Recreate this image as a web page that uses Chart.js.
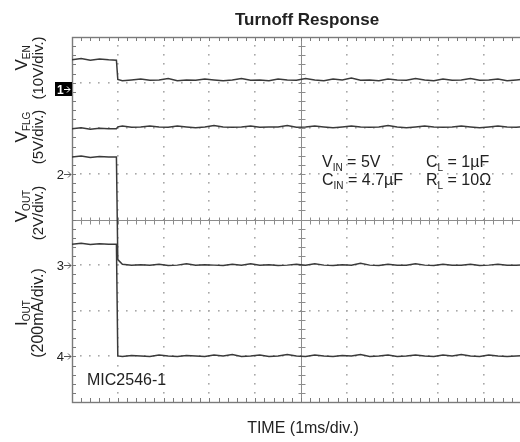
<!DOCTYPE html>
<html>
<head>
<meta charset="utf-8">
<script src="https://cdn.jsdelivr.net/npm/chart.js@4.4.1/dist/chart.umd.min.js"></script>
<style>
  html, body { margin: 0; padding: 0; background: #fff; overflow: hidden; }
  #wrap { width: 540px; height: 442px; }
</style>
</head>
<body>
<div id="wrap"><canvas id="scope"></canvas></div>
<script>
// time in divisions (1ms/div), traces in screen divisions (0 = bottom, 8 = top)
const timeDiv = [
  0, 0.2, 0.4, 0.6, 0.8, 0.97, 1.0, 1.1, 1.3, 1.5,
  1.7, 1.9, 2.1, 2.3, 2.5, 2.7, 2.9, 3.1, 3.3, 3.5,
  3.7, 3.9, 4.1, 4.3, 4.5, 4.7, 4.9, 5.1, 5.3, 5.5,
  5.7, 5.9, 6.1, 6.3, 6.5, 6.7, 6.9, 7.1, 7.3, 7.5,
  7.7, 7.9, 8.1, 8.3, 8.5, 8.7, 8.9, 9.1, 9.3, 9.5,
  9.7, 9.9, 10.0
];
const vEn = [
  7.50, 7.53, 7.49, 7.52, 7.50, 7.49, 7.07, 7.04, 7.06, 7.08,
  7.05, 7.06, 7.09, 7.04, 7.06, 7.05, 7.08, 7.06, 7.04, 7.06,
  7.09, 7.05, 7.06, 7.04, 7.08, 7.06, 7.05, 7.09, 7.06, 7.04,
  7.08, 7.06, 7.10, 7.05, 7.06, 7.04, 7.08, 7.06, 7.05, 7.09,
  7.06, 7.04, 7.08, 7.05, 7.06, 7.09, 7.05, 7.06, 7.08, 7.04,
  7.06, 7.08, 7.06
];
const vFlg = [
  5.99, 6.01, 5.98, 6.00, 5.99, 5.99, 6.03, 6.05, 6.02, 6.03,
  6.05, 6.03, 6.02, 6.05, 6.03, 6.01, 6.03, 6.06, 6.03, 6.02,
  6.03, 6.05, 6.02, 6.03, 6.03, 6.06, 6.02, 6.03, 6.05, 6.03,
  6.01, 6.03, 6.05, 6.03, 6.02, 6.03, 6.06, 6.03, 6.01, 6.03,
  6.05, 6.03, 6.02, 6.03, 6.05, 6.03, 6.01, 6.03, 6.05, 6.03,
  6.02, 6.04, 6.03
];
const vOut = [
  5.37, 5.39, 5.36, 5.38, 5.37, 5.37, 3.12, 3.02, 3.00, 3.01,
  3.00, 3.02, 2.99, 3.00, 3.03, 3.00, 3.01, 3.00, 2.99, 3.02,
  3.00, 3.03, 3.00, 3.01, 2.99, 3.00, 3.02, 3.00, 3.03, 3.00,
  2.99, 3.01, 3.00, 3.04, 3.00, 2.99, 3.02, 3.00, 3.00, 3.03,
  3.00, 2.99, 3.02, 3.00, 3.00, 3.02, 2.99, 3.00, 3.02, 3.00,
  3.00, 3.01, 3.00
];
const iOut = [
  3.46, 3.48, 3.45, 3.47, 3.46, 3.46, 1.01, 1.00, 1.02, 1.01,
  1.00, 1.03, 1.01, 1.00, 1.02, 1.01, 1.00, 1.03, 1.01, 1.04,
  1.00, 1.01, 1.03, 1.00, 1.01, 1.04, 1.01, 1.00, 1.03, 1.01,
  1.00, 1.02, 1.01, 1.04, 1.00, 1.01, 1.03, 1.00, 1.01, 1.03,
  1.01, 1.00, 1.03, 1.01, 1.04, 1.01, 1.00, 1.03, 1.01, 1.00,
  1.01, 1.02, 1.01
];
// channel ground markers
const markerLabels = ["1", "2", "3", "4"];
const markerLevels = [7, 5, 3, 1];
const xDivs = 10;
const yDivs = 8;

const FONT = '"Liberation Sans", Arial, sans-serif';
const GRID = "#a8a8a8";
const FRAME = "#8c8c8c";
const TRACE = "#3a3a3a";
const INK = "#222";

// draw a list of text runs ({t, size, dy}) from x, aligned left or center
function drawRuns(ctx, x, y, runs, align) {
  let total = 0;
  for (const r of runs) {
    ctx.font = `${r.size}px ${FONT}`;
    r.w = ctx.measureText(r.t).width;
    total += r.w;
  }
  let cx = align === "center" ? x - total / 2 : x;
  ctx.textAlign = "left";
  ctx.textBaseline = "alphabetic";
  for (const r of runs) {
    ctx.font = `${r.size}px ${FONT}`;
    ctx.fillText(r.t, cx, y + (r.dy || 0));
    cx += r.w;
  }
}

function rotatedRuns(ctx, baseX, centerY, runs) {
  ctx.save();
  ctx.translate(baseX, centerY);
  ctx.rotate(-Math.PI / 2);
  drawRuns(ctx, 0, 0, runs, "center");
  ctx.restore();
}

const scopePlugin = {
  id: "scope",
  beforeDatasetsDraw(chart) {
    const { ctx, chartArea: a, scales: { x, y } } = chart;
    ctx.save();

    // dotted graticule
    ctx.fillStyle = GRID;
    for (let i = 1; i < xDivs; i++) {
      if (i === 5) continue;
      const px = Math.round(x.getPixelForValue(i));
      for (let j = 1; j < yDivs * 5; j++) {
        const py = Math.round(y.getPixelForValue(j / 5));
        ctx.fillRect(px - 1, py - 1, 1.6, 1.6);
      }
    }
    for (let j = 1; j < yDivs; j++) {
      if (j === 4) continue;
      const py = Math.round(y.getPixelForValue(j));
      for (let i = 1; i < xDivs * 5; i++) {
        const px = Math.round(x.getPixelForValue(i / 5));
        ctx.fillRect(px - 1, py - 1, 1.6, 1.6);
      }
    }

    // centre axes with minor ticks
    ctx.strokeStyle = FRAME;
    ctx.lineWidth = 1;
    const cx = Math.round(x.getPixelForValue(5)) + 0.5;
    const cy = Math.round(y.getPixelForValue(4)) + 0.5;
    ctx.beginPath();
    ctx.moveTo(cx, a.top); ctx.lineTo(cx, a.bottom);
    ctx.moveTo(a.left, cy); ctx.lineTo(a.right, cy);
    for (let j = 1; j < yDivs * 5; j++) {
      const py = Math.round(y.getPixelForValue(j / 5)) + 0.5;
      ctx.moveTo(cx - 3, py); ctx.lineTo(cx + 4, py);
    }
    for (let i = 1; i < xDivs * 5; i++) {
      const px = Math.round(x.getPixelForValue(i / 5)) + 0.5;
      ctx.moveTo(px, cy - 3); ctx.lineTo(px, cy + 4);
    }
    ctx.stroke();

    // frame with inward ticks
    ctx.strokeStyle = "#7a7a7a";
    ctx.lineWidth = 1.4;
    ctx.strokeRect(Math.round(a.left) + 0.5, Math.round(a.top) + 0.5,
      Math.round(a.right - a.left), Math.round(a.bottom - a.top));
    ctx.lineWidth = 1;
    ctx.beginPath();
    for (let i = 1; i < xDivs * 5; i++) {
      const px = Math.round(x.getPixelForValue(i / 5)) + 0.5;
      ctx.moveTo(px, a.top); ctx.lineTo(px, a.top + 4);
      ctx.moveTo(px, a.bottom); ctx.lineTo(px, a.bottom - 4);
    }
    for (let j = 1; j < yDivs * 5; j++) {
      const py = Math.round(y.getPixelForValue(j / 5)) + 0.5;
      ctx.moveTo(a.left, py); ctx.lineTo(a.left + 4, py);
    }
    ctx.stroke();
    ctx.restore();
  },
  afterDraw(chart) {
    const { ctx, chartArea: a, scales: { x, y } } = chart;
    ctx.save();
    ctx.fillStyle = INK;

    // title + x label
    ctx.font = `bold 17px ${FONT}`;
    ctx.textAlign = "center";
    ctx.fillText("Turnoff Response", 307, 25);
    drawRuns(ctx, 303, 433, [{ t: "TIME (1ms/div.)", size: 16 }], "center");

    // channel labels on the left
    rotatedRuns(ctx, 27, 58, [{ t: "V", size: 17 }, { t: "EN", size: 10, dy: 3 }]);
    rotatedRuns(ctx, 43, 68, [{ t: "(10V/div.)", size: 15 }]);
    rotatedRuns(ctx, 27, 127, [{ t: "V", size: 17 }, { t: "FLG", size: 10, dy: 3 }]);
    rotatedRuns(ctx, 43, 137, [{ t: "(5V/div.)", size: 15 }]);
    rotatedRuns(ctx, 27, 206, [{ t: "V", size: 17 }, { t: "OUT", size: 10, dy: 3 }]);
    rotatedRuns(ctx, 43, 213, [{ t: "(2V/div.)", size: 15 }]);
    rotatedRuns(ctx, 27, 313, [{ t: "I", size: 17 }, { t: "OUT", size: 10, dy: 3 }]);
    rotatedRuns(ctx, 43, 313, [{ t: "(200mA/div.)", size: 16 }]);

    // ground markers
    markerLabels.forEach((lab, k) => {
      const py = Math.round(y.getPixelForValue(markerLevels[k]));
      if (k === 0) {
        ctx.fillStyle = "#000";
        ctx.fillRect(55, py - 1, a.left - 55, 14);
        ctx.fillStyle = "#fff";
        ctx.strokeStyle = "#fff";
        ctx.font = `bold 12px ${FONT}`;
        ctx.textAlign = "left";
        ctx.fillText(lab, 57, py + 11);
        ctx.beginPath();
        ctx.moveTo(64, py + 6.5); ctx.lineTo(70, py + 6.5);
        ctx.moveTo(67, py + 3.5); ctx.lineTo(70, py + 6.5); ctx.lineTo(67, py + 9.5);
        ctx.stroke();
        ctx.fillStyle = INK;
      } else {
        ctx.font = `13px ${FONT}`;
        ctx.textAlign = "right";
        ctx.fillText(lab, 64, py + 5);
        ctx.strokeStyle = "#555";
        ctx.beginPath();
        ctx.moveTo(64, py + 0.5); ctx.lineTo(71, py + 0.5);
        ctx.moveTo(68, py - 2.5); ctx.lineTo(71, py + 0.5); ctx.lineTo(68, py + 3.5);
        ctx.stroke();
      }
    });

    // test conditions
    ctx.fillStyle = INK;
    drawRuns(ctx, 322, 167, [{ t: "V", size: 16 }, { t: "IN", size: 10, dy: 4 }, { t: " = 5V", size: 16 }], "left");
    drawRuns(ctx, 322, 185, [{ t: "C", size: 16 }, { t: "IN", size: 10, dy: 4 }, { t: " = 4.7\u00b5F", size: 16 }], "left");
    drawRuns(ctx, 426, 167, [{ t: "C", size: 16 }, { t: "L", size: 10, dy: 4 }, { t: " = 1\u00b5F", size: 16 }], "left");
    drawRuns(ctx, 426, 185, [{ t: "R", size: 16 }, { t: "L", size: 10, dy: 4 }, { t: " = 10\u03a9", size: 16 }], "left");
    drawRuns(ctx, 87, 385, [{ t: "MIC2546-1", size: 16 }], "left");
    ctx.restore();
  }
};

function trace(values) {
  return {
    data: timeDiv.map((t, i) => ({ x: t, y: values[i] })),
    borderColor: TRACE,
    borderWidth: 1.5,
    pointRadius: 0,
    tension: 0,
    fill: false,
  };
}

new Chart(document.getElementById("scope"), {
  type: "line",
  data: {
    datasets: [trace(vEn), trace(vFlg), trace(vOut), trace(iOut)],
  },
  options: {
    responsive: true,
    maintainAspectRatio: false,
    animation: false,
    layout: { padding: { left: 72, top: 37, right: 10, bottom: 40 } },
    plugins: { legend: { display: false }, tooltip: { enabled: false } },
    scales: {
      x: { type: "linear", min: 0, max: xDivs, display: false },
      y: { type: "linear", min: 0, max: yDivs, display: false },
    },
  },
  plugins: [scopePlugin],
});
</script>
</body>
</html>
